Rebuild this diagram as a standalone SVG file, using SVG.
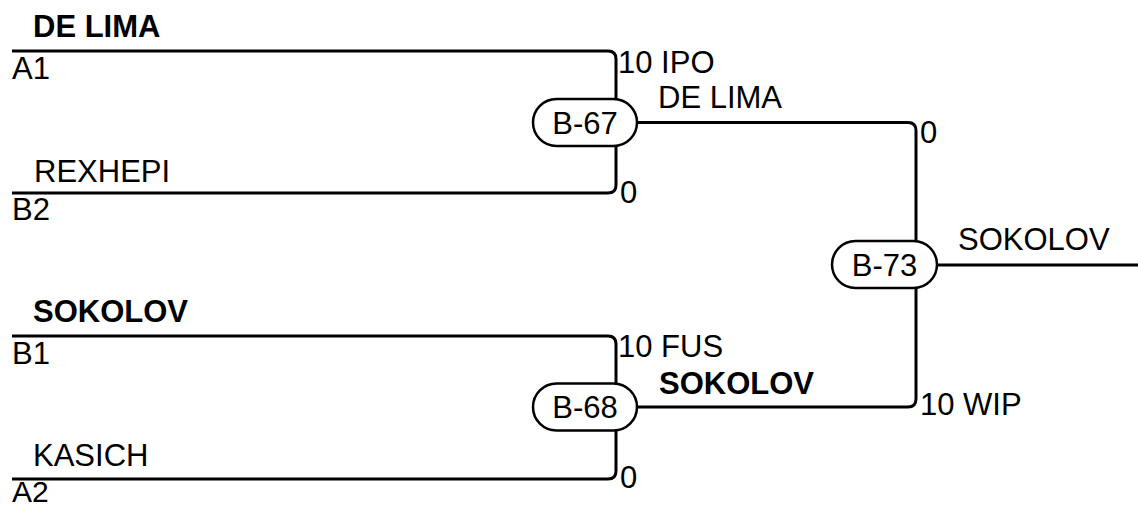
<svg xmlns="http://www.w3.org/2000/svg" width="1138" height="508" viewBox="0 0 1138 508">
<style>
text{font-family:"Liberation Sans",Arial,sans-serif;font-size:31px;fill:#000}
.b{font-weight:bold}
.m{text-anchor:middle}
.ln{fill:none;stroke:#000;stroke-width:3}
.pill{fill:#fff;stroke:#000;stroke-width:2.5}
</style>
<rect width="1138" height="508" fill="#fff"/>
<g id="connectors">
<path class="ln" d="M12,51 H608 Q616,51 616,59 V185 Q616,193 608,193 H12"/>
<path class="ln" d="M12,336 H608 Q616,336 616,344 V471 Q616,479 608,479 H12"/>
<path class="ln" d="M637,122.5 H908 Q916,122.5 916,130.5 V399 Q916,407 908,407 H637"/>
<path class="ln" d="M937,265 H1138"/>
</g>
<g id="labels">
<text class="b" x="33" y="37">DE LIMA</text>
<text x="12" y="79">A1</text>
<text x="34" y="182">REXHEPI</text>
<text x="12" y="220">B2</text>
<text x="618" y="73">10 IPO</text>
<text x="658" y="108">DE LIMA</text>
<text x="620" y="203">0</text>
<text class="b" x="33" y="322">SOKOLOV</text>
<text x="12" y="364">B1</text>
<text x="33" y="466">KASICH</text>
<text x="12" y="502" style="font-size:30px">A2</text>
<text x="618" y="357">10 FUS</text>
<text class="b" x="659" y="394">SOKOLOV</text>
<text x="620" y="488">0</text>
<text x="920" y="143">0</text>
<text x="958" y="250">SOKOLOV</text>
<text x="920" y="415">10 WIP</text>
</g>
<g id="B-67">
<rect class="pill" x="533" y="99" width="104" height="47" rx="23.5"/>
<text class="m" x="585" y="133.5">B-67</text>
</g>
<g id="B-68">
<rect class="pill" x="533" y="383.5" width="104" height="47" rx="23.5"/>
<text class="m" x="585" y="418">B-68</text>
</g>
<g id="B-73">
<rect class="pill" x="832" y="241" width="105" height="47" rx="23.5"/>
<text class="m" x="884.5" y="275.5">B-73</text>
</g>
</svg>
